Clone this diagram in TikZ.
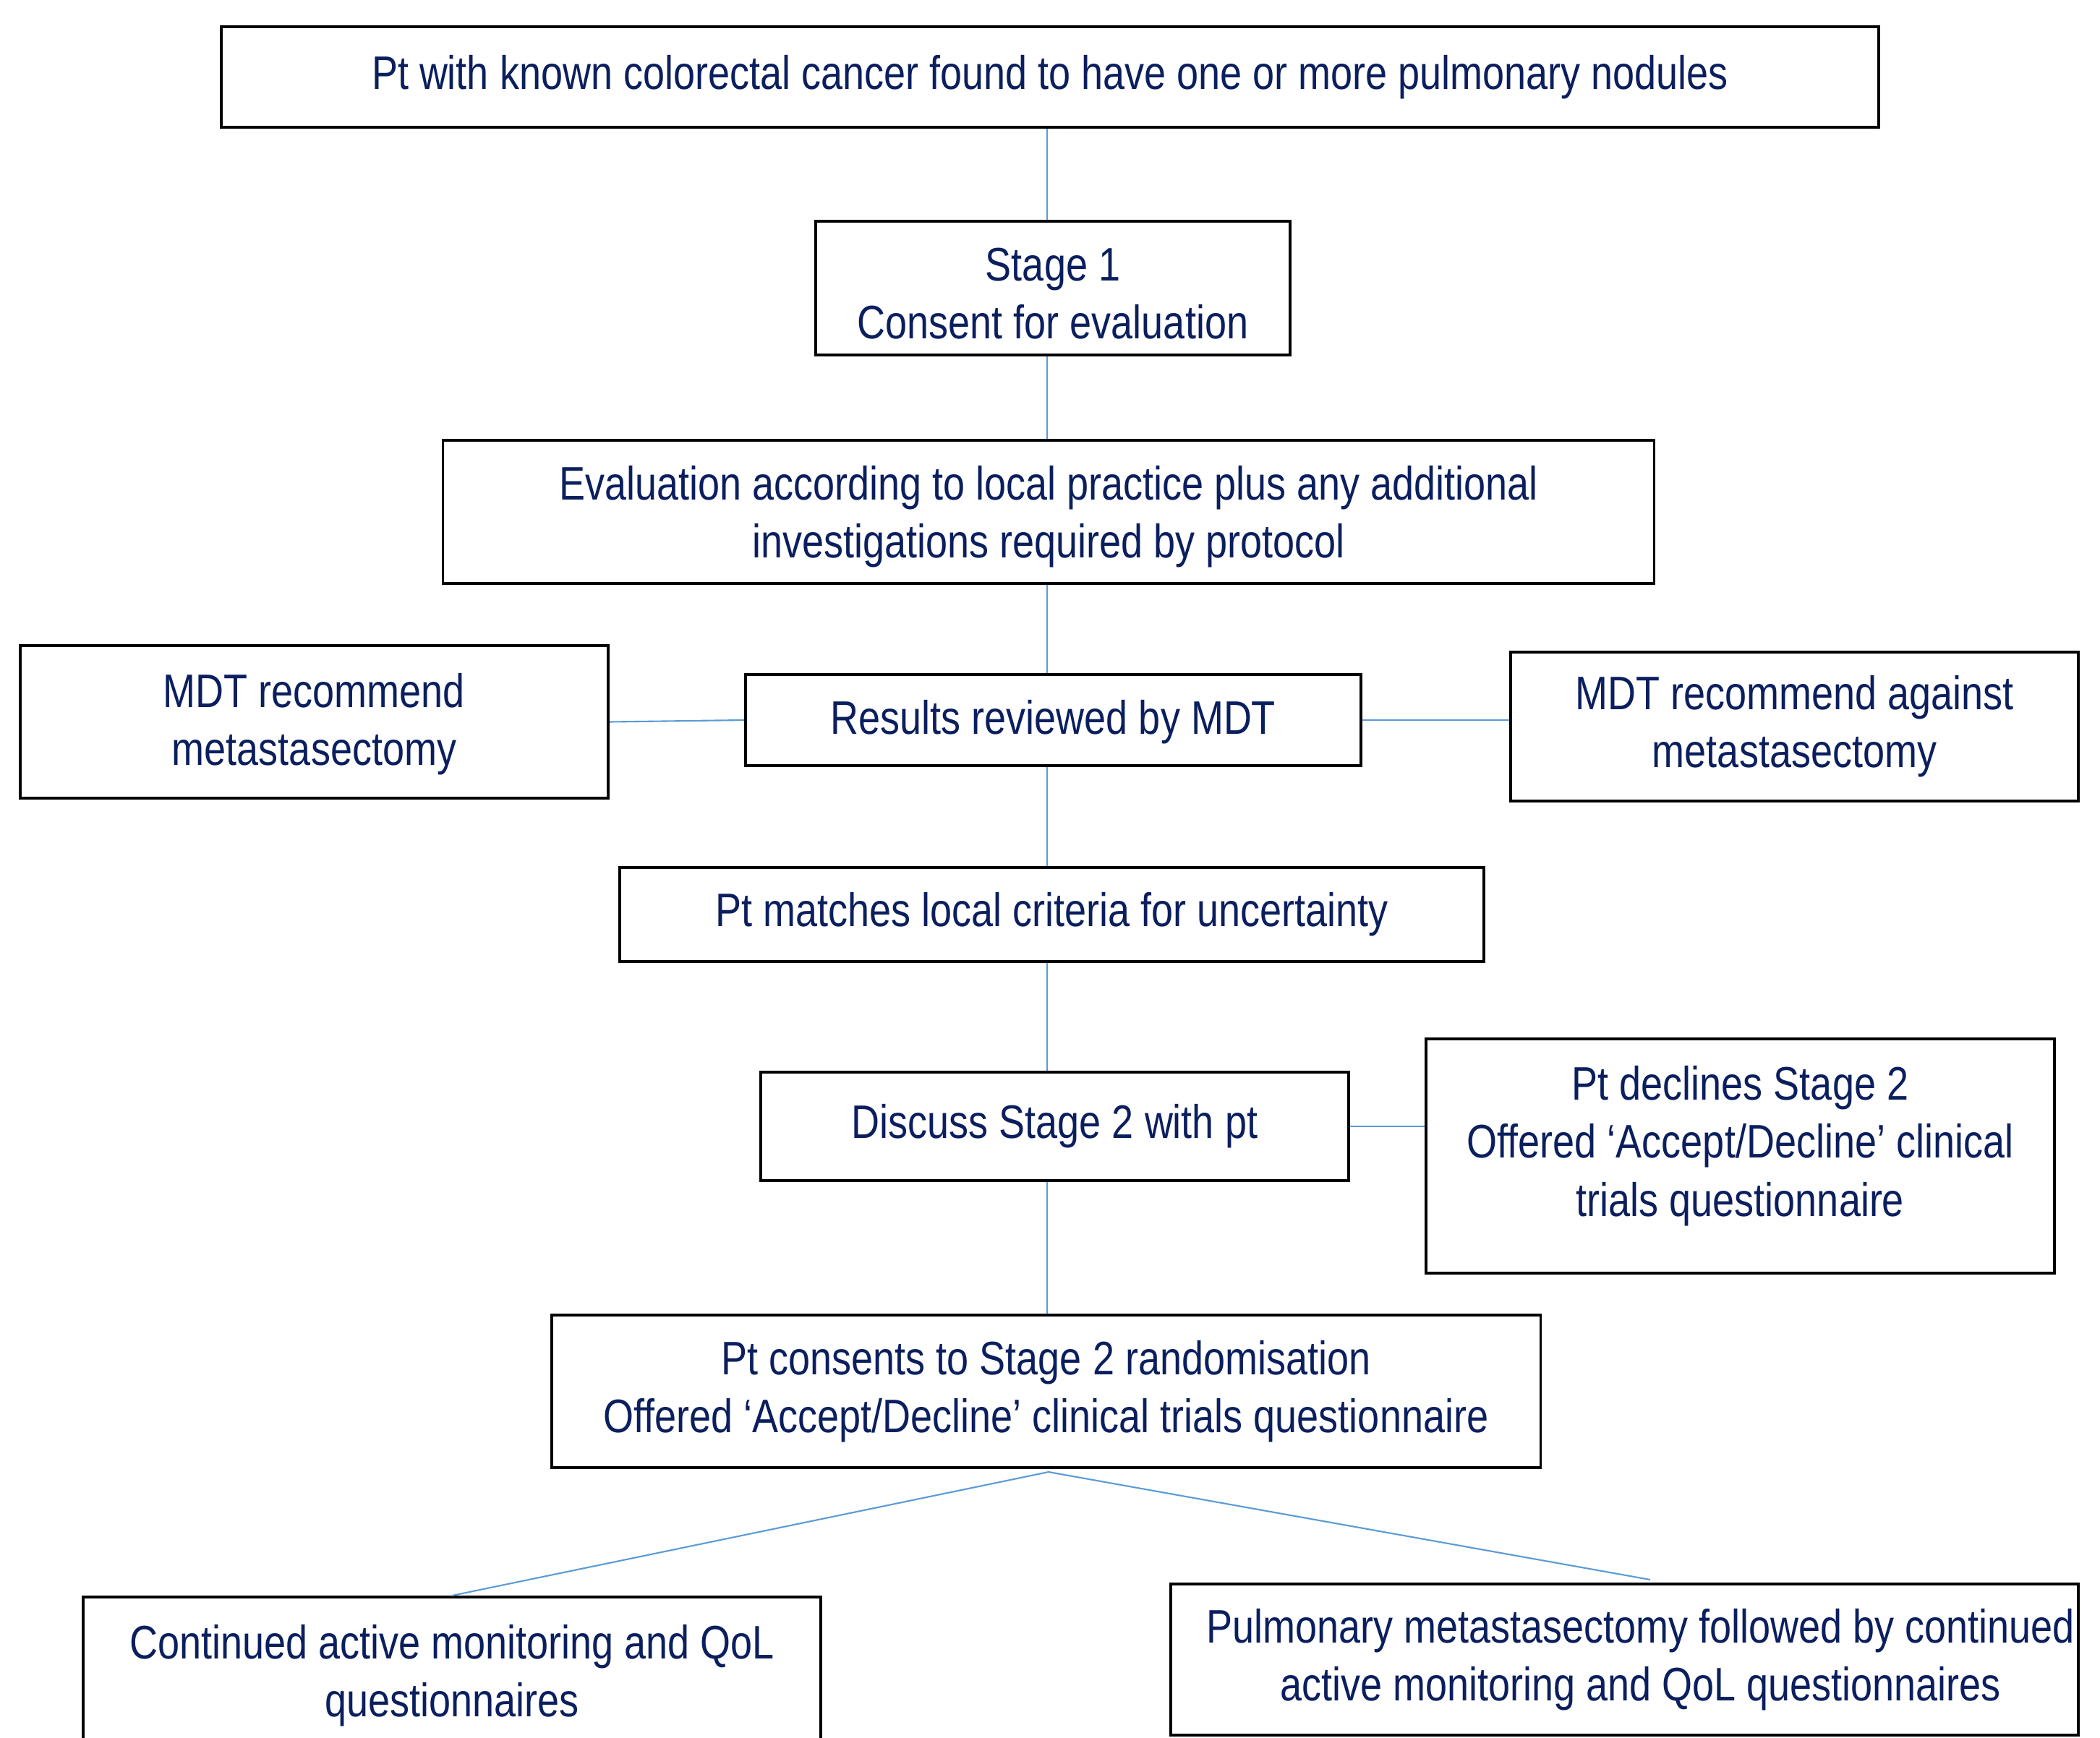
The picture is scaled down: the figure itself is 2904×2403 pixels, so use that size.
\documentclass[tikz,border=0pt]{standalone}
\usepackage{fontspec}
\setmainfont[FakeStretch=0.83]{Liberation Sans}
\usetikzlibrary{calc}
\definecolor{txt}{HTML}{0B1F5E}
\definecolor{connc}{HTML}{5B9BD5}
\begin{document}
\begin{tikzpicture}[x=0.01cm,y=-0.01cm,
  box/.style={draw=black,line width=1.1pt,fill=white,text=txt,align=center,inner sep=0pt,font=\fontsize{18.5}{22.8}\selectfont},
  plain/.style={text=txt,align=center,inner sep=0pt,font=\fontsize{18.5}{22.8}\selectfont},
  conn/.style={draw=connc,line width=0.6pt}]
\useasboundingbox (0,0) rectangle (2904,2403);
\clip (0,0) rectangle (2904,2403);
\fill[white] (0,0) rectangle (2904,2403);
\coordinate (col) at (1448,0);

\node[box,minimum width=22.90cm,minimum height=1.39cm] (b1) at (1452,106.5) {Pt with known colorectal cancer found to have one or more pulmonary nodules};
\node[box,minimum width=6.56cm,minimum height=1.85cm] (b2) at (1456,398.5) {};
\node[plain] (b2text) at (1456,406) {Stage 1\\Consent for evaluation};
\node[box,minimum width=16.74cm,minimum height=1.98cm] (b3) at (1450,708) {};
\node[plain] (b3text) at (1450,715) {Evaluation according to local practice plus any additional\\investigations required by protocol};
\node[box,minimum width=8.13cm,minimum height=2.11cm] (mdtl) at (434.5,998.5) {};
\node[plain] (mdtltext) at (434.5,1002) {MDT recommend\\metastasectomy};
\node[box,minimum width=8.51cm,minimum height=1.26cm] (res) at (1456.5,996) {};
\node[plain] (restext) at (1456.5,999) {Results reviewed by MDT};
\node[box,minimum width=7.85cm,minimum height=2.06cm] (mdtr) at (2481.5,1005) {MDT recommend against\\metastasectomy};
\node[box,minimum width=11.95cm,minimum height=1.30cm] (match) at (1454.5,1265) {Pt matches local criteria for uncertainty};
\node[box,minimum width=8.13cm,minimum height=1.50cm] (disc) at (1458.5,1558) {Discuss Stage 2 with pt};
\node[box,minimum width=8.69cm,minimum height=3.24cm] (decl) at (2406.5,1599) {};
\node[plain] (decltext) at (2406.5,1585) {Pt declines Stage 2\\Offered ‘Accept/Decline’ clinical\\trials questionnaire};
\node[box,minimum width=13.67cm,minimum height=2.11cm] (cons) at (1446.5,1924.5) {Pt consents to Stage 2 randomisation\\Offered ‘Accept/Decline’ clinical trials questionnaire};
\node[box,minimum width=10.20cm,minimum height=2.10cm] (cont) at (625,2314) {};
\node[plain] (conttext) at (625,2318) {Continued active monitoring and QoL\\questionnaires};
\node[box,minimum width=12.55cm,minimum height=2.09cm] (pulm) at (2246.5,2295.5) {};
\node[plain] (pulmtext) at (2268.5,2295.5) {Pulmonary metastasectomy followed by continued\\active monitoring and QoL questionnaires};

\draw[conn] (b1.south -| col) -- (b2.north -| col);
\draw[conn] (b2.south -| col) -- (b3.north -| col);
\draw[conn] (b3.south -| col) -- (res.north -| col);
\draw[conn] (res.south -| col) -- (match.north -| col);
\draw[conn] (match.south -| col) -- (disc.north -| col);
\draw[conn] (disc.south -| col) -- (cons.north -| col);
\draw[conn] (mdtl.east) -- (res.west);
\draw[conn] (res.east) -- (res.east -| mdtr.west);
\draw[conn] (disc.east) -- (disc.east -| decl.west);
\coordinate (apx) at ($(cons.south -| col)+(2,4)$);
\coordinate (pend) at (2282,2185);
\draw[conn] (apx) -- (cont.north);
\draw[conn] (apx) -- (pend);
\end{tikzpicture}
\end{document}
